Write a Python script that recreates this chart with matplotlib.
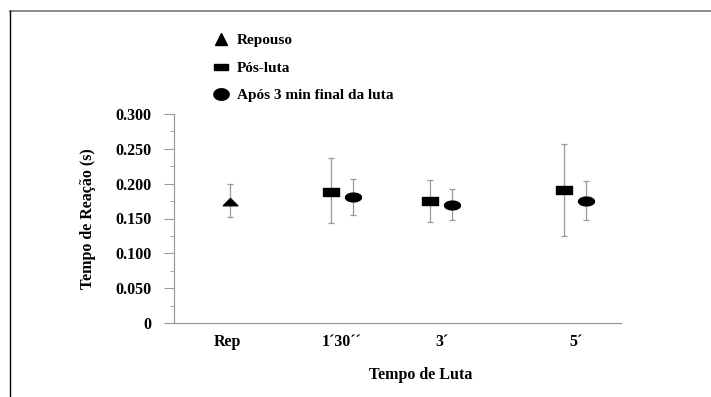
import numpy as np
import matplotlib
matplotlib.use("Agg")
import matplotlib.pyplot as plt
from matplotlib.lines import Line2D
from matplotlib.path import Path
from matplotlib.ticker import MultipleLocator

plt.rcParams['font.family'] = ['Liberation Serif', 'DejaVu Serif']
plt.rcParams['font.weight'] = 'bold'

# categorias e posições no eixo x
categorias = ["Rep", "1\u00b430\u00b4\u00b4", "3\u00b4", "5\u00b4"]
pos_cat = [0.54, 1.69, 2.70, 4.05]

# Repouso
rep_x = [0.56]
rep_media = [0.174]
rep_sup = [0.199]
rep_inf = [0.1515]

# Pós-luta
pos_x = [1.58, 2.58, 3.93]
pos_media = [0.1885, 0.175, 0.191]
pos_sup = [0.2365, 0.2048, 0.257]
pos_inf = [0.143, 0.1455, 0.125]

# Após 3 min final da luta
apos_x = [1.80, 2.80, 4.15]
apos_media = [0.181, 0.170, 0.1756]
apos_sup = [0.207, 0.193, 0.204]
apos_inf = [0.1555, 0.148, 0.1475]

fig = plt.figure(figsize=(7.11, 3.97), dpi=100)
ax = fig.add_axes([174/711, 1 - 323/397, (621-174)/711, (323-114)/397])

# marcadores achatados
tri = Path([(-1, -0.45), (1, -0.45), (0, 0.55), (-1, -0.45)])
ret = Path([(-1, -0.5), (1, -0.5), (1, 0.5), (-1, 0.5), (-1, -0.5)])
t = np.linspace(0, 2*np.pi, 60)
eli = Path(np.column_stack([np.cos(t), 0.55*np.sin(t)]))

def barras(x, m, sup, inf, marcador, ms):
    m = np.array(m)
    err = [m - np.array(inf), np.array(sup) - m]
    ax.errorbar(x, m, yerr=err, fmt='none', ecolor='#9a9a9a', elinewidth=0.9,
                capsize=2.3, capthick=0.9, zorder=2)
    ax.plot(x, m, linestyle='none', marker=marcador, markersize=ms,
            color='black', zorder=3)

barras(rep_x, rep_media, rep_sup, rep_inf, tri, 10.5)
barras(pos_x, pos_media, pos_sup, pos_inf, ret, 12)
barras(apos_x, apos_media, apos_sup, apos_inf, eli, 11.5)

ax.set_xlim(0, 4.5)
ax.set_ylim(0, 0.3)
ax.set_yticks([0, 0.05, 0.1, 0.15, 0.2, 0.25, 0.3])
ax.yaxis.set_minor_locator(MultipleLocator(0.025))
ax.set_yticklabels(['0', '0.050', '0.100', '0.150', '0.200', '0.250', '0.300'],
                   fontsize=11.5, fontweight='bold')
ax.set_xticks(pos_cat)
ax.set_xticklabels(categorias, fontsize=11.5, fontweight='bold')
ax.tick_params(axis='x', length=0, pad=8)
ax.tick_params(axis='y', which='major', length=7, color='#9a9a9a', pad=9)
ax.tick_params(axis='y', which='minor', length=3, color='#9a9a9a')
for s in ['top', 'right']:
    ax.spines[s].set_visible(False)
for s in ['left', 'bottom']:
    ax.spines[s].set_color('#9a9a9a')
    ax.spines[s].set_linewidth(0.9)

ax.set_ylabel("Tempo de Reação (s)", fontsize=11.5, fontweight='bold', labelpad=14)
ax.set_xlabel("Tempo de Luta", fontsize=11.5, fontweight='bold')
ax.xaxis.set_label_coords((421-174)/447, -(375-323)/209, transform=ax.transAxes)
ax.xaxis.label.set_va('center')

# legenda
leg = [Line2D([], [], linestyle='none', marker='^', markersize=9, color='black'),
       Line2D([], [], linestyle='none', marker=ret, markersize=10, color='black'),
       Line2D([], [], linestyle='none', marker=Path(np.column_stack([np.cos(t), 0.75*np.sin(t)])),
              markersize=11, color='black')]
fig.legend(leg, ["Repouso", "Pós-luta", "Após 3 min final da luta"],
           loc='upper left', bbox_to_anchor=(198/711, 1 - 20/397), frameon=False,
           prop={'size': 11, 'weight': 'bold'}, labelspacing=0.9,
           handletextpad=0.45, handlelength=1.2)

# moldura
fig.add_artist(Line2D([10/711, 1], [1 - 11/397, 1 - 11/397], color='#777777', lw=1.2))
fig.add_artist(Line2D([10/711, 10/711], [0, 1 - 11/397], color='black', lw=1.0))

fig.savefig("out.png", dpi=100)
